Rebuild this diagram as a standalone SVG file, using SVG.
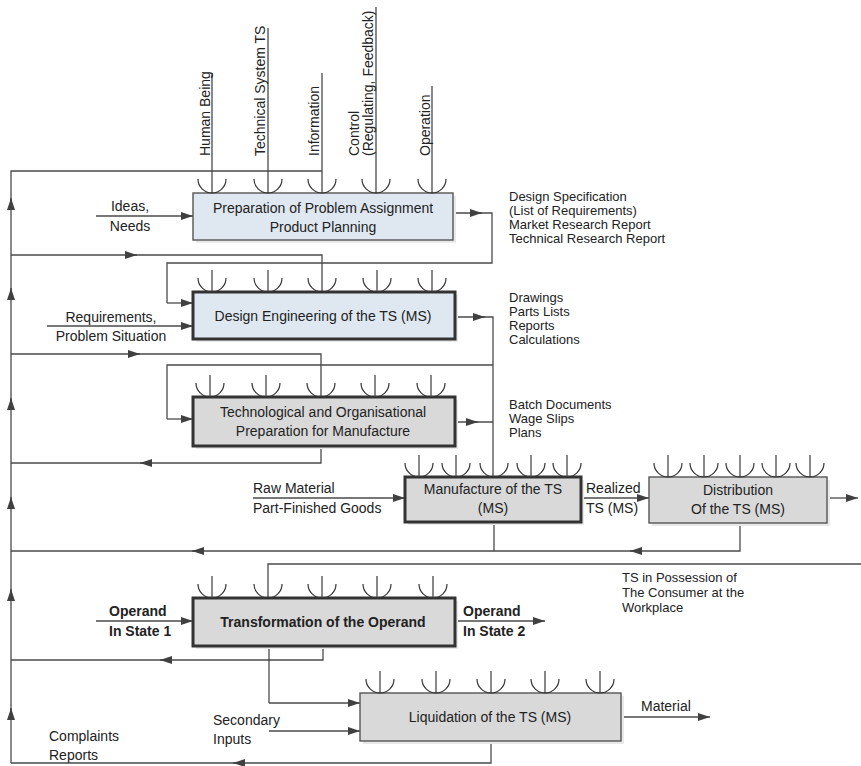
<svg xmlns="http://www.w3.org/2000/svg" width="861" height="766" viewBox="0 0 861 766">
<style>
text{font-family:"Liberation Sans",Arial,sans-serif;font-size:14px;fill:#222}
.c{text-anchor:middle}
.b{font-weight:bold}
.l{font-size:13px}
.ln{fill:none;stroke:#4a4a4a;stroke-width:1.3}
.ar{fill:none;stroke:#4a4a4a;stroke-width:1.3;marker-end:url(#ah)}
.sh{fill:#e9e9e9}
.blue{fill:#dfe8f1}
.gray{fill:#d9d9d9}
.thin{stroke:#555;stroke-width:1.4}
.thick{stroke:#333;stroke-width:3}
.cup{fill:none;stroke:#333;stroke-width:1.2}
</style>
<defs>
<marker id="ah" viewBox="0 0 12 8" refX="12" refY="4" markerWidth="12" markerHeight="8" orient="auto" markerUnits="userSpaceOnUse">
<path d="M0,0 L12,4 L0,8 z" fill="#404040"/>
</marker>
</defs>
<rect width="861" height="766" fill="#fff"/>

<g id="connectors">
<path class="ln" d="M11,763 V171 H322"/>
<path class="ln" d="M212,73 V193 M268,28 V193 M322,73 V193 M376,7 V193 M432,86 V193"/>
<path class="ln" d="M11,255 H322 V292"/>
<path class="ln" d="M453,213 H492 V263 H167 V303"/>
<path class="ar" d="M167,303 H193"/>
<path class="ar" d="M96,216 H193"/>
<path class="ar" d="M47,326 H193"/>
<path class="ln" d="M455,317 H493 V477"/>
<path class="ln" d="M493,365 H167 V419"/>
<path class="ar" d="M167,419 H193"/>
<path class="ln" d="M11,354 H321 V397"/>
<path class="ln" d="M455,422 H493"/>
<path class="ln" d="M321,446 V463 H11"/>
<path class="ar" d="M253,498 H405"/>
<path class="ar" d="M581,498 H649"/>
<path class="ar" d="M827,498 H858"/>
<path class="ln" d="M494,522 V551 M740,523 V551 H11"/>
<path class="ln" d="M861,564 H268 V598"/>
<path class="ar" d="M96,621 H193"/>
<path class="ar" d="M455,621 H545"/>
<path class="ln" d="M323,646 V660 H11"/>
<path class="ln" d="M269,646 V703"/>
<path class="ar" d="M269,703 H360"/>
<path class="ar" d="M269,731 H360"/>
<path class="ar" d="M621,717 H710"/>
<path class="ln" d="M491,741 V763 H11"/>
<path class="ar" d="M125,255 H137"/>
<path class="ar" d="M470,213 H482"/>
<path class="ar" d="M473,317 H485"/>
<path class="ar" d="M128,354 H140"/>
<path class="ar" d="M466,422 H478"/>
<path class="ar" d="M152,463 H140"/>
<path class="ar" d="M642,551 H630"/>
<path class="ar" d="M204,551 H192"/>
<path class="ar" d="M172,660 H160"/>
<path class="ar" d="M245,763 H233"/>
<path class="ar" d="M11,210 V198"/>
<path class="ar" d="M11,300 V288"/>
<path class="ar" d="M11,410 V398"/>
<path class="ar" d="M11,509 V497"/>
<path class="ar" d="M11,601 V589"/>
<path class="ar" d="M11,720 V708"/>
</g>

<g id="top-labels">
<text transform="translate(210,156) rotate(-90)">Human Being</text>
<text transform="translate(265,156) rotate(-90)">Technical System TS</text>
<text transform="translate(319,156) rotate(-90)">Information</text>
<text transform="translate(359,156) rotate(-90)">Control</text>
<text transform="translate(373,156) rotate(-90)">(Regulating, Feedback)</text>
<text transform="translate(430,156) rotate(-90)">Operation</text>
</g>

<g id="n1">
<rect class="sh" x="196" y="196" width="260" height="47"/>
<rect class="blue thin" x="193" y="193" width="260" height="47"/>
<path class="cup" d="M198,179 A14,14 0 0 0 226,179 M254,179 A14,14 0 0 0 282,179 M308,179 A14,14 0 0 0 336,179 M362,179 A14,14 0 0 0 390,179 M418,179 A14,14 0 0 0 446,179"/>
<text class="c" x="323" y="213">Preparation of Problem Assignment</text>
<text class="c" x="323" y="232">Product Planning</text>
</g>

<g id="n2">
<rect class="sh" x="196" y="295" width="262" height="47"/>
<rect class="blue thick" x="193" y="292" width="262" height="47"/>
<path class="ln" d="M212,270 V292 M268,270 V292 M377,270 V292 M432,270 V292"/>
<path class="cup" d="M198,278 A14,14 0 0 0 226,278 M254,278 A14,14 0 0 0 282,278 M308,278 A14,14 0 0 0 336,278 M363,278 A14,14 0 0 0 391,278 M418,278 A14,14 0 0 0 446,278"/>
<text class="c" x="323" y="321">Design Engineering of the TS (MS)</text>
</g>

<g id="n3">
<rect class="sh" x="196" y="400" width="262" height="49"/>
<rect class="gray thick" x="193" y="397" width="262" height="49"/>
<path class="ln" d="M210,375 V397 M266,375 V397 M375,375 V397 M431,375 V397"/>
<path class="cup" d="M196,383 A14,14 0 0 0 224,383 M252,383 A14,14 0 0 0 280,383 M307,383 A14,14 0 0 0 335,383 M361,383 A14,14 0 0 0 389,383 M417,383 A14,14 0 0 0 445,383"/>
<text class="c" x="323" y="417">Technological and Organisational</text>
<text class="c" x="323" y="436">Preparation for Manufacture</text>
</g>

<g id="n4">
<rect class="sh" x="408" y="480" width="176" height="45"/>
<rect class="gray thick" x="405" y="477" width="176" height="45"/>
<path class="ln" d="M419,455 V477 M456,455 V477 M531,455 V477 M567,455 V477"/>
<path class="cup" d="M405,463 A14,14 0 0 0 433,463 M442,463 A14,14 0 0 0 470,463 M480,463 A14,14 0 0 0 508,463 M517,463 A14,14 0 0 0 545,463 M553,463 A14,14 0 0 0 581,463"/>
<text class="c" x="493" y="494">Manufacture of the TS</text>
<text class="c" x="493" y="513">(MS)</text>
</g>

<g id="n5">
<rect class="sh" x="652" y="480" width="178" height="46"/>
<rect class="gray thin" x="649" y="477" width="178" height="46"/>
<path class="ln" d="M668,455 V477 M704,455 V477 M740,455 V477 M776,455 V477 M810,455 V477"/>
<path class="cup" d="M654,463 A14,14 0 0 0 682,463 M690,463 A14,14 0 0 0 718,463 M726,463 A14,14 0 0 0 754,463 M762,463 A14,14 0 0 0 790,463 M796,463 A14,14 0 0 0 824,463"/>
<text class="c" x="738" y="495">Distribution</text>
<text class="c" x="738" y="514">Of the TS (MS)</text>
</g>

<g id="n6">
<rect class="sh" x="196" y="601" width="262" height="48"/>
<rect class="gray thick" x="193" y="598" width="262" height="48"/>
<path class="ln" d="M212,576 V598 M322,576 V598 M377,576 V598 M433,576 V598"/>
<path class="cup" d="M198,584 A14,14 0 0 0 226,584 M254,584 A14,14 0 0 0 282,584 M308,584 A14,14 0 0 0 336,584 M363,584 A14,14 0 0 0 391,584 M419,584 A14,14 0 0 0 447,584"/>
<text class="c b" x="323" y="627">Transformation of the Operand</text>
</g>

<g id="n7">
<rect class="sh" x="363" y="696" width="261" height="48"/>
<rect class="gray thin" x="360" y="693" width="261" height="48"/>
<path class="ln" d="M380,671 V693 M436,671 V693 M491,671 V693 M545,671 V693 M600,671 V693"/>
<path class="cup" d="M366,679 A14,14 0 0 0 394,679 M422,679 A14,14 0 0 0 450,679 M477,679 A14,14 0 0 0 505,679 M531,679 A14,14 0 0 0 559,679 M586,679 A14,14 0 0 0 614,679"/>
<text class="c" x="490" y="722">Liquidation of the TS (MS)</text>
</g>

<g id="labels">
<text class="c" x="130" y="211">Ideas,</text>
<text class="c" x="130" y="231">Needs</text>
<text class="l" x="509" y="201">Design Specification</text>
<text class="l" x="509" y="215">(List of Requirements)</text>
<text class="l" x="509" y="229">Market Research Report</text>
<text class="l" x="509" y="243">Technical Research Report</text>
<text class="c" x="111" y="322">Requirements,</text>
<text class="c" x="111" y="341">Problem Situation</text>
<text class="l" x="509" y="302">Drawings</text>
<text class="l" x="509" y="316">Parts Lists</text>
<text class="l" x="509" y="330">Reports</text>
<text class="l" x="509" y="344">Calculations</text>
<text class="l" x="509" y="409">Batch Documents</text>
<text class="l" x="509" y="423">Wage Slips</text>
<text class="l" x="509" y="437">Plans</text>
<text x="253" y="493">Raw Material</text>
<text x="253" y="513">Part-Finished Goods</text>
<text x="586" y="493">Realized</text>
<text x="586" y="513">TS (MS)</text>
<text class="l" x="622" y="582">TS in Possession of</text>
<text class="l" x="622" y="597">The Consumer at the</text>
<text class="l" x="622" y="612">Workplace</text>
<text class="b" x="109" y="616">Operand</text>
<text class="b" x="109" y="636">In State 1</text>
<text class="b" x="463" y="616">Operand</text>
<text class="b" x="463" y="636">In State 2</text>
<text x="213" y="725">Secondary</text>
<text x="213" y="744">Inputs</text>
<text x="641" y="711">Material</text>
<text x="49" y="741">Complaints</text>
<text x="49" y="760">Reports</text>
</g>
</svg>
